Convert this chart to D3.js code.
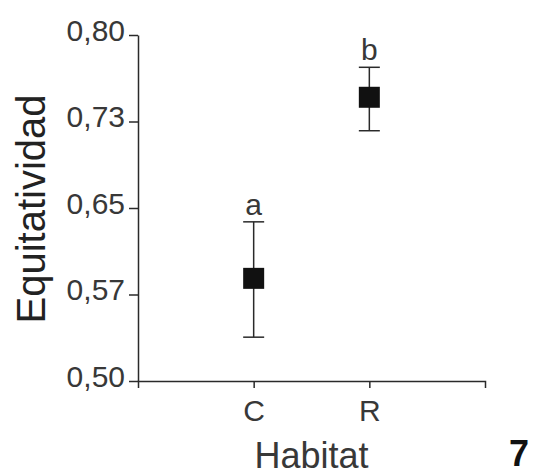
<!DOCTYPE html>
<html>
<head>
<meta charset="utf-8">
<script src="https://cdn.jsdelivr.net/npm/d3@7"></script>
<style>
  html, body { margin: 0; padding: 0; background: #ffffff; }
  svg { display: block; font-family: "Liberation Sans", Arial, Helvetica, sans-serif; }
</style>
</head>
<body>
<svg id="chart" width="537" height="475"></svg>
<script>
// ---- data ----
const categories = ["C", "R"];
const means = [0.589, 0.746];
const upper = [0.638, 0.772];
const lower = [0.538, 0.717];
const groupLetters = ["a", "b"];
const yTickValues = [0.50, 0.575, 0.65, 0.725, 0.80];
const yTickLabels = ["0,50", "0,57", "0,65", "0,73", "0,80"];
const xTitle = "Habitat";
const yTitle = "Equitatividad";
const panelLabel = "7";

// ---- layout ----
const svg = d3.select("#chart");
const mLeft = 138, mRight = 485, mTop = 35, mBottom = 381;
const textColor = "#383838";
const lineColor = "#2a2a2a";

const x = d3.scalePoint().domain(categories).range([mLeft, mRight]).padding(1);
const y = d3.scaleLinear().domain([0.5, 0.8]).range([mBottom, mTop]);

// y axis
const yAxis = svg.append("g")
  .attr("transform", `translate(${mLeft},0)`)
  .call(d3.axisLeft(y)
    .tickValues(yTickValues)
    .tickFormat((d, i) => yTickLabels[i])
    .tickSize(9)
    .tickSizeOuter(0)
    .tickPadding(4));
yAxis.selectAll("path, line").attr("stroke", lineColor).attr("stroke-width", 1.5);
yAxis.selectAll("text")
  .attr("font-size", 30)
  .attr("fill", textColor)
  .attr("dy", "0.18em")
  .style("font-family", "'Liberation Sans', Arial, sans-serif");

// x axis
const xAxis = svg.append("g")
  .attr("transform", `translate(0,${mBottom})`)
  .call(d3.axisBottom(x)
    .tickSize(7)
    .tickSizeOuter(7)
    .tickPadding(12));
xAxis.selectAll("path, line").attr("stroke", lineColor).attr("stroke-width", 1.5);
xAxis.selectAll("text")
  .attr("font-size", 30)
  .attr("fill", textColor)
  .style("font-family", "'Liberation Sans', Arial, sans-serif");

// error bars
const capW = 21, boxS = 21;
const g = svg.append("g");
categories.forEach((c, i) => {
  const cx = x(c);
  g.append("line")
    .attr("x1", cx).attr("x2", cx)
    .attr("y1", y(upper[i])).attr("y2", y(lower[i]))
    .attr("stroke", lineColor).attr("stroke-width", 1.5);
  [upper[i], lower[i]].forEach(v => {
    g.append("line")
      .attr("x1", cx - capW / 2).attr("x2", cx + capW / 2)
      .attr("y1", y(v)).attr("y2", y(v))
      .attr("stroke", lineColor).attr("stroke-width", 1.5);
  });
  g.append("rect")
    .attr("x", cx - boxS / 2).attr("y", y(means[i]) - boxS / 2)
    .attr("width", boxS).attr("height", boxS)
    .attr("fill", "#111111");
  g.append("text")
    .attr("x", cx).attr("y", y(upper[i]) - 7)
    .attr("text-anchor", "middle")
    .attr("font-size", 30)
    .attr("fill", textColor)
    .text(groupLetters[i]);
});

// titles
svg.append("text")
  .attr("transform", `translate(45,209) rotate(-90)`)
  .attr("text-anchor", "middle")
  .attr("font-size", 40)
  .attr("fill", "#222222")
  .text(yTitle);

svg.append("text")
  .attr("x", (mLeft + mRight) / 2)
  .attr("y", 468)
  .attr("text-anchor", "middle")
  .attr("font-size", 36)
  .attr("fill", textColor)
  .text(xTitle);

svg.append("text")
  .attr("x", 509)
  .attr("y", 466)
  .attr("font-size", 36)
  .attr("font-weight", "bold")
  .attr("fill", "#111111")
  .text(panelLabel);
</script>
</body>
</html>
